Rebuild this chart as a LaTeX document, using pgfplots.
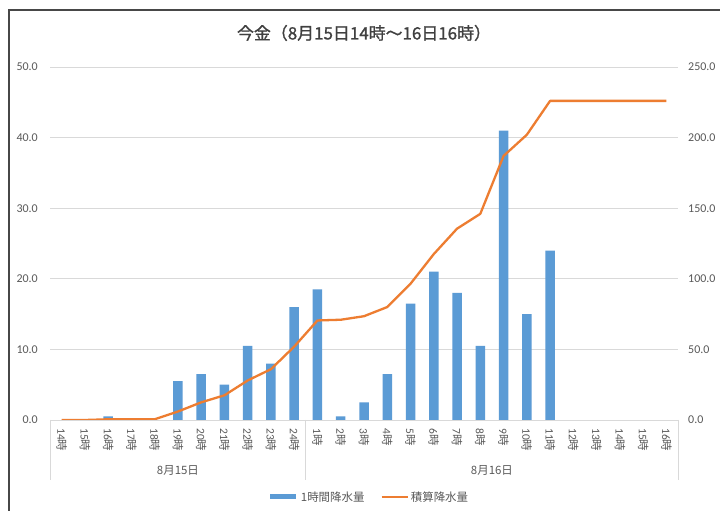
\documentclass[border=0pt]{standalone}
\usepackage{pgfplots}
\pgfplotsset{compat=1.18}
\usepackage{pgfplotstable}
\usepackage{fontspec}
\setmainfont{Carlito}
\newfontfamily\cjk{Noto Sans CJK JP}
\newfontfamily\cjkb{Noto Sans CJK JP}[FakeBold=1.2]
\newcommand\J[1]{{\cjk #1}}
\definecolor{barblue}{HTML}{5B9BD5}
\definecolor{lineorange}{HTML}{ED7D31}
\definecolor{gridgray}{HTML}{D9D9D9}
\definecolor{txtgray}{HTML}{595959}
\definecolor{titlegray}{HTML}{404040}

\pgfplotstableread{
x hourly cum
0 0 0
1 0 0
2 0.5 0.5
3 0 0.5
4 0 0.5
5 5.5 6
6 6.5 12.5
7 5.0 17.5
8 10.5 28
9 8.0 36
10 16.0 52
11 18.5 70.5
12 0.5 71
13 2.5 73.5
14 6.5 80
15 16.5 96.5
16 21.0 117.5
17 18.0 135.5
18 10.5 146
19 41.0 187
20 15.0 202
21 24.0 226
22 0 226
23 0 226
24 0 226
25 0 226
26 0 226
}\data

\begin{document}
\begin{tikzpicture}[x=1bp,y=1bp]
\useasboundingbox (0,0) rectangle (720,511);
\fill[white] (0,0) rectangle (720,511);
\draw[color=txtgray!80!black, line width=1.2bp] (9,-2) -- (9,501) -- (722,501);
\node[font=\cjkb\fontsize{17}{19}\selectfont, text=titlegray] at (364,478) {今金（8月15日14時～16日16時）};

\begin{axis}[
  at={(50bp,91bp)}, anchor=south west,
  scale only axis, width=628bp, height=353bp,
  xmin=-0.5, xmax=26.5, ymin=0, ymax=50,
  clip=false,
  axis line style={draw=none},
  major tick length=0pt,
  ytick={0,10,20,30,40,50},
  ymajorgrids, grid style={gridgray, line width=0.8bp},
  yticklabel style={font=\fontsize{12}{13}\selectfont, text=txtgray, anchor=east, inner sep=0pt, xshift=-12bp},
  /pgf/number format/.cd, fixed, fixed zerofill, precision=1, assume math mode=true,
  /pgfplots/.cd,
  xtick={0,...,26},
  xticklabels={14\J{時},15\J{時},16\J{時},17\J{時},18\J{時},19\J{時},20\J{時},21\J{時},22\J{時},23\J{時},24\J{時},1\J{時},2\J{時},3\J{時},4\J{時},5\J{時},6\J{時},7\J{時},8\J{時},9\J{時},10\J{時},11\J{時},12\J{時},13\J{時},14\J{時},15\J{時},16\J{時}},
  xticklabel style={font=\fontsize{11.5}{13}\selectfont, text=txtgray, rotate=-90, anchor=west, inner sep=0pt},
  xticklabel shift=8bp,
]
\addplot[ybar, bar width=9.5bp, fill=barblue, draw=none, y filter/.expression={y==0 ? nan : y}] table[x=x, y=hourly] {\data};
\draw[gridgray, line width=0.8bp] (axis cs:-0.5,0) -- ([yshift=-60bp]axis cs:-0.5,0);
\draw[gridgray, line width=0.8bp] (axis cs:10.5,0) -- ([yshift=-60bp]axis cs:10.5,0);
\draw[gridgray, line width=0.8bp] (axis cs:26.5,0) -- ([yshift=-60bp]axis cs:26.5,0);
\node[font=\cjk\fontsize{11.5}{13}\selectfont, text=txtgray] at ([yshift=-50bp]axis cs:5,0) {8月15日};
\node[font=\cjk\fontsize{11.5}{13}\selectfont, text=txtgray] at ([yshift=-50bp]axis cs:18.5,0) {8月16日};
\end{axis}

\begin{axis}[
  at={(50bp,91bp)}, anchor=south west,
  scale only axis, width=628bp, height=353bp,
  xmin=-0.5, xmax=26.5, ymin=0, ymax=250,
  axis x line=none,
  axis y line*=right,
  axis line style={draw=none},
  major tick length=0pt,
  ytick={0,50,100,150,200,250},
  yticklabel style={font=\fontsize{12}{13}\selectfont, text=txtgray, anchor=west, inner sep=0pt, xshift=10bp},
  /pgf/number format/.cd, fixed, fixed zerofill, precision=1, assume math mode=true,
  /pgfplots/.cd,
  legend style={at={(0.508,-0.218)}, anchor=center, draw=none, fill=none,
    legend columns=2, font=\cjk\fontsize{11.5}{13}\selectfont, text=txtgray,
    /tikz/every even column/.append style={column sep=14bp}},
  legend image code/.code={\draw[#1] (0bp,0bp) -- (26bp,0bp);},
]
\addlegendimage{barblue, line width=5bp}
\addlegendentry{1時間降水量}
\addplot[lineorange, line width=2.3bp, line join=round] table[x=x, y=cum] {\data};
\addlegendentry{積算降水量}
\end{axis}
\end{tikzpicture}
\end{document}
